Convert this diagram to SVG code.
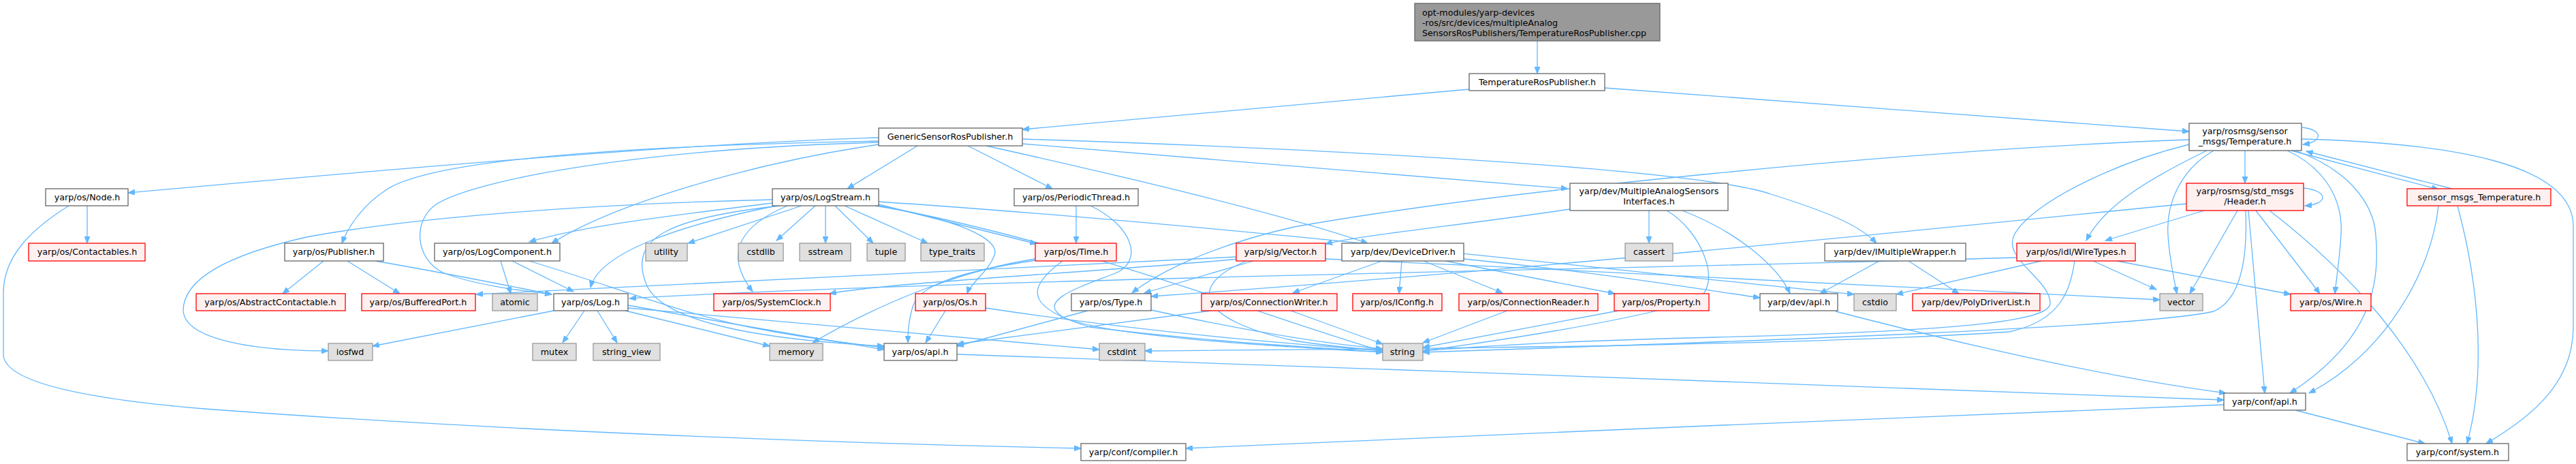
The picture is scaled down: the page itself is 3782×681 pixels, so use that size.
<svg xmlns="http://www.w3.org/2000/svg" width="3782" height="681" viewBox="0 0 3782 681">
<defs>
<marker id="a" markerWidth="11" markerHeight="8" refX="10" refY="4" orient="auto" markerUnits="userSpaceOnUse"><path d="M0,0 L10,4 L0,8 z" fill="#63B8FF" stroke="#63B8FF"/></marker>
<style>
rect{stroke-width:1.3}
.w rect{fill:#fff;stroke:#666}
.r rect{fill:#FFF0F0;stroke:#FF0000}
.g rect{fill:#E0E0E0;stroke:#999}
.t rect{fill:#999;stroke:#666}
text{font-family:"DejaVu Sans","Liberation Sans",sans-serif;font-size:12.7px;fill:#000;text-anchor:middle}
.t text{text-anchor:start}
#edges path{fill:none;stroke:#63B8FF;stroke-width:1.3;marker-end:url(#a)}
</style>
</defs>
<rect width="3782" height="681" fill="#fff"/>
<g id="edges">
<path d="M2257,60 L2257,108"/>
<path d="M2157,131 L1501,190"/>
<path d="M2356,129 L3214,193"/>
<path d="M1290,202 C1000,210 500,255 188,283"/>
<path d="M1290,207 C850,215 620,240 565,280 C535,300 512,330 502,357"/>
<path d="M1290,212 C1100,240 900,300 810,357"/>
<path d="M1347,214 L1244,277"/>
<path d="M1290,209 C950,218 700,262 640,300 C605,325 610,380 650,400 C700,420 780,428 810,432"/>
<path d="M1421,214 L1545,277"/>
<path d="M1448,214 C1700,270 1900,320 2008,357"/>
<path d="M1501,211 L2302,277"/>
<path d="M1501,204 C2000,220 2500,250 2600,285 C2680,310 2730,330 2755,357"/>
<path d="M128,302 L128,357"/>
<path d="M101,302 C40,340 5,380 5,430 L5,520 C5,560 120,585 300,600 C700,630 1200,650 1587,658"/>
<path d="M475,383 L415,431"/>
<path d="M510,383 L587,431"/>
<path d="M551,383 C650,400 750,420 810,432"/>
<path d="M735,383 L750,431"/>
<path d="M752,383 L842,428"/>
<path d="M777,383 C900,420 1000,460 1100,480 C1200,500 1260,505 1298,510"/>
<path d="M813,456 L547,508"/>
<path d="M858,456 L826,503"/>
<path d="M877,456 L906,503"/>
<path d="M918,456 L1130,508"/>
<path d="M922,448 C1100,480 1250,505 1298,513"/>
<path d="M922,452 C1200,475 1450,500 1614,513"/>
<path d="M1134,293 C850,300 600,320 450,348 C330,375 270,410 269,455 C270,500 380,515 482,515"/>
<path d="M1134,298 C1000,315 860,330 777,355"/>
<path d="M1140,302 C1000,330 880,370 867,422"/>
<path d="M1177,302 L1010,357"/>
<path d="M1197,302 L1140,353"/>
<path d="M1212,302 L1212,357"/>
<path d="M1226,302 L1282,357"/>
<path d="M1240,302 L1362,357"/>
<path d="M1290,300 L1522,358"/>
<path d="M1156,302 C1090,330 1060,370 1105,428"/>
<path d="M1285,302 C1400,320 1470,350 1460,375 C1450,400 1425,415 1420,431"/>
<path d="M1145,302 C980,320 920,350 950,420 C980,480 1150,500 1298,508"/>
<path d="M1290,302 C1600,360 1900,480 2030,515"/>
<path d="M1290,296 C1800,330 2400,400 2722,432"/>
<path d="M1580,302 L1580,357"/>
<path d="M1601,302 C1660,330 1680,380 1640,400 C1590,420 1520,440 1560,465 C1620,495 1900,510 2030,517"/>
<path d="M1521,382 C1400,400 1350,420 1340,450 C1333,475 1333,490 1333,503"/>
<path d="M1520,380 C1420,395 1300,440 1193,503"/>
<path d="M1560,383 C1510,420 1500,450 1600,480 C1800,505 1950,510 2030,517"/>
<path d="M2029,383 L1898,430"/>
<path d="M2058,383 L2054,431"/>
<path d="M2090,383 L2206,430"/>
<path d="M2122,383 L2371,431"/>
<path d="M2149,380 C2350,400 2500,425 2584,437"/>
<path d="M1778,456 L1405,505"/>
<path d="M1895,456 L2030,505"/>
<path d="M2213,456 L2089,503"/>
<path d="M2376,456 L2089,510"/>
<path d="M1597,456 L1405,508"/>
<path d="M1690,455 C1850,490 1950,505 2030,512"/>
<path d="M1388,456 L1359,503"/>
<path d="M1447,452 C1700,490 1900,505 2030,515"/>
<path d="M1840,383 L1680,430"/>
<path d="M1830,383 C1740,420 1760,470 1900,500 C1950,508 2000,512 2030,514"/>
<path d="M1815,377 C1500,395 1000,415 699,432"/>
<path d="M1820,380 C1600,400 1300,415 1218,431"/>
<path d="M1946,380 C2400,400 2900,425 3171,440"/>
<path d="M2305,307 C2150,330 2000,345 1946,358"/>
<path d="M2421,309 L2421,357"/>
<path d="M2447,309 C2500,340 2530,420 2490,440 C2400,470 2200,500 2089,515"/>
<path d="M2470,309 C2550,340 2610,390 2628,431"/>
<path d="M2759,383 L2672,431"/>
<path d="M2802,383 L2876,431"/>
<path d="M2997,383 L2784,432"/>
<path d="M2961,378 C2400,395 1400,410 924,438"/>
<path d="M3046,383 C3040,420 3030,470 2950,487 C2600,510 1900,513 1681,515"/>
<path d="M3073,383 L3166,425"/>
<path d="M3108,383 L3363,432"/>
<path d="M3380,187 C3410,190 3412,208 3381,212"/>
<path d="M3382,276 C3420,280 3418,300 3384,302"/>
<path d="M3296,221 L3296,269"/>
<path d="M3364,221 L3580,278"/>
<path d="M3600,277 L3386,222"/>
<path d="M3358,221 C3420,250 3440,300 3437,345 C3435,380 3430,410 3428,431"/>
<path d="M3370,221 C3450,250 3485,300 3488,345 C3495,420 3480,500 3362,577"/>
<path d="M3379,204 C3600,210 3775,240 3778,330 L3778,480 C3778,560 3720,610 3650,651"/>
<path d="M3250,221 C3200,250 3180,300 3183,345 C3185,380 3192,410 3196,431"/>
<path d="M3214,205 C2800,220 2200,280 1900,333 C1780,360 1700,400 1662,430"/>
<path d="M3214,212 C3100,240 2980,300 2957,345 C2940,380 3010,410 3010,445 C3010,470 2900,485 2520,495 C2300,500 2150,510 2089,515"/>
<path d="M3240,221 C3160,260 3090,300 3063,353"/>
<path d="M3210,299 C2800,340 2200,400 1690,435"/>
<path d="M3236,309 L3091,353"/>
<path d="M3285,309 L3215,431"/>
<path d="M3297,309 C3300,380 3290,440 3250,457 C3150,480 2600,500 2089,517"/>
<path d="M3301,309 L3325,577"/>
<path d="M3312,309 L3406,431"/>
<path d="M3332,309 C3450,400 3560,520 3600,651"/>
<path d="M3580,302 C3570,400 3500,520 3390,577"/>
<path d="M3608,302 C3640,420 3650,550 3622,651"/>
<path d="M3370,602 L3560,651"/>
<path d="M3265,594 C2800,610 2200,640 1741,658"/>
<path d="M1405,520 C2000,540 2800,570 3265,587"/>
<path d="M2695,457 C2900,510 3100,555 3268,577"/>
</g>
<g id="n_cpp" class="t"><rect x="2077" y="5" width="360" height="55"/><text x="2088" y="23">opt-modules/yarp-devices</text><text x="2088" y="38">-ros/src/devices/multipleAnalog</text><text x="2088" y="53">SensorsRosPublishers/TemperatureRosPublisher.cpp</text></g>
<g id="n_trp" class="w"><rect x="2157" y="108" width="199" height="25"/><text x="2257" y="125">TemperatureRosPublisher.h</text></g>
<g id="n_gsrp" class="w"><rect x="1290" y="188" width="211" height="26"/><text x="1395" y="205">GenericSensorRosPublisher.h</text></g>
<g id="n_smt" class="w"><rect x="3214" y="181" width="165" height="40"/><text x="3296" y="197">yarp/rosmsg/sensor</text><text x="3296" y="212">_msgs/Temperature.h</text></g>
<g id="n_node" class="w"><rect x="67" y="277" width="121" height="25"/><text x="128" y="294">yarp/os/Node.h</text></g>
<g id="n_logstream" class="w"><rect x="1134" y="277" width="156" height="25"/><text x="1212" y="294">yarp/os/LogStream.h</text></g>
<g id="n_periodic" class="w"><rect x="1489" y="277" width="182" height="25"/><text x="1580" y="294">yarp/os/PeriodicThread.h</text></g>
<g id="n_masi" class="w"><rect x="2305" y="269" width="232" height="40"/><text x="2421" y="285">yarp/dev/MultipleAnalogSensors</text><text x="2421" y="300">Interfaces.h</text></g>
<g id="n_header" class="r"><rect x="3210" y="269" width="172" height="40"/><text x="3296" y="285">yarp/rosmsg/std_msgs</text><text x="3296" y="300">/Header.h</text></g>
<g id="n_smtred" class="r"><rect x="3534" y="277" width="211" height="25"/><text x="3640" y="294">sensor_msgs_Temperature.h</text></g>
<g id="n_contactables" class="r"><rect x="42" y="357" width="171" height="26"/><text x="128" y="374">yarp/os/Contactables.h</text></g>
<g id="n_publisher" class="w"><rect x="418" y="357" width="145" height="26"/><text x="490" y="374">yarp/os/Publisher.h</text></g>
<g id="n_logcomp" class="w"><rect x="638" y="357" width="184" height="26"/><text x="730" y="374">yarp/os/LogComponent.h</text></g>
<g id="n_utility" class="g"><rect x="948" y="357" width="61" height="26"/><text x="978" y="374">utility</text></g>
<g id="n_cstdlib" class="g"><rect x="1084" y="357" width="66" height="26"/><text x="1117" y="374">cstdlib</text></g>
<g id="n_sstream" class="g"><rect x="1174" y="357" width="75" height="26"/><text x="1212" y="374">sstream</text></g>
<g id="n_tuple" class="g"><rect x="1273" y="357" width="56" height="26"/><text x="1301" y="374">tuple</text></g>
<g id="n_typetraits" class="g"><rect x="1352" y="357" width="93" height="26"/><text x="1398" y="374">type_traits</text></g>
<g id="n_time" class="r"><rect x="1520" y="357" width="119" height="26"/><text x="1580" y="374">yarp/os/Time.h</text></g>
<g id="n_vector_sig" class="r"><rect x="1815" y="357" width="131" height="26"/><text x="1880" y="374">yarp/sig/Vector.h</text></g>
<g id="n_devdriver" class="w"><rect x="1970" y="357" width="179" height="26"/><text x="2060" y="374">yarp/dev/DeviceDriver.h</text></g>
<g id="n_cassert" class="g"><rect x="2386" y="357" width="70" height="26"/><text x="2421" y="374">cassert</text></g>
<g id="n_imw" class="w"><rect x="2679" y="357" width="207" height="26"/><text x="2782" y="374">yarp/dev/IMultipleWrapper.h</text></g>
<g id="n_wiretypes" class="r"><rect x="2961" y="357" width="174" height="26"/><text x="3048" y="374">yarp/os/idl/WireTypes.h</text></g>
<g id="n_abscont" class="r"><rect x="288" y="431" width="219" height="25"/><text x="397" y="448">yarp/os/AbstractContactable.h</text></g>
<g id="n_bufport" class="r"><rect x="531" y="431" width="167" height="25"/><text x="614" y="448">yarp/os/BufferedPort.h</text></g>
<g id="n_atomic" class="g"><rect x="723" y="431" width="66" height="25"/><text x="756" y="448">atomic</text></g>
<g id="n_log" class="w"><rect x="813" y="431" width="109" height="25"/><text x="867" y="448">yarp/os/Log.h</text></g>
<g id="n_sysclock" class="r"><rect x="1048" y="431" width="171" height="25"/><text x="1133" y="448">yarp/os/SystemClock.h</text></g>
<g id="n_os" class="r"><rect x="1344" y="431" width="103" height="25"/><text x="1395" y="448">yarp/os/Os.h</text></g>
<g id="n_type" class="w"><rect x="1573" y="431" width="117" height="25"/><text x="1631" y="448">yarp/os/Type.h</text></g>
<g id="n_connwriter" class="r"><rect x="1764" y="431" width="199" height="25"/><text x="1863" y="448">yarp/os/ConnectionWriter.h</text></g>
<g id="n_iconfig" class="r"><rect x="1986" y="431" width="131" height="25"/><text x="2051" y="448">yarp/os/IConfig.h</text></g>
<g id="n_connreader" class="r"><rect x="2142" y="431" width="204" height="25"/><text x="2244" y="448">yarp/os/ConnectionReader.h</text></g>
<g id="n_property" class="r"><rect x="2370" y="431" width="139" height="25"/><text x="2439" y="448">yarp/os/Property.h</text></g>
<g id="n_devapi" class="w"><rect x="2584" y="431" width="114" height="25"/><text x="2641" y="448">yarp/dev/api.h</text></g>
<g id="n_cstdio" class="g"><rect x="2722" y="431" width="62" height="25"/><text x="2753" y="448">cstdio</text></g>
<g id="n_polydriver" class="r"><rect x="2808" y="431" width="187" height="25"/><text x="2901" y="448">yarp/dev/PolyDriverList.h</text></g>
<g id="n_vector" class="g"><rect x="3171" y="431" width="63" height="25"/><text x="3202" y="448">vector</text></g>
<g id="n_wire" class="r"><rect x="3363" y="431" width="118" height="25"/><text x="3422" y="448">yarp/os/Wire.h</text></g>
<g id="n_iosfwd" class="g"><rect x="482" y="504" width="65" height="25"/><text x="514" y="521">iosfwd</text></g>
<g id="n_mutex" class="g"><rect x="782" y="504" width="64" height="25"/><text x="814" y="521">mutex</text></g>
<g id="n_stringview" class="g"><rect x="871" y="504" width="98" height="25"/><text x="920" y="521">string_view</text></g>
<g id="n_memory" class="g"><rect x="1130" y="504" width="78" height="25"/><text x="1169" y="521">memory</text></g>
<g id="n_osapi" class="w"><rect x="1298" y="504" width="107" height="25"/><text x="1351" y="521">yarp/os/api.h</text></g>
<g id="n_cstdint" class="g"><rect x="1614" y="504" width="67" height="25"/><text x="1647" y="521">cstdint</text></g>
<g id="n_string" class="g"><rect x="2030" y="504" width="59" height="25"/><text x="2059" y="521">string</text></g>
<g id="n_confapi" class="w"><rect x="3265" y="577" width="120" height="25"/><text x="3325" y="594">yarp/conf/api.h</text></g>
<g id="n_compiler" class="w"><rect x="1587" y="651" width="154" height="25"/><text x="1664" y="668">yarp/conf/compiler.h</text></g>
<g id="n_system" class="w"><rect x="3534" y="651" width="149" height="25"/><text x="3608" y="668">yarp/conf/system.h</text></g>
</svg>
